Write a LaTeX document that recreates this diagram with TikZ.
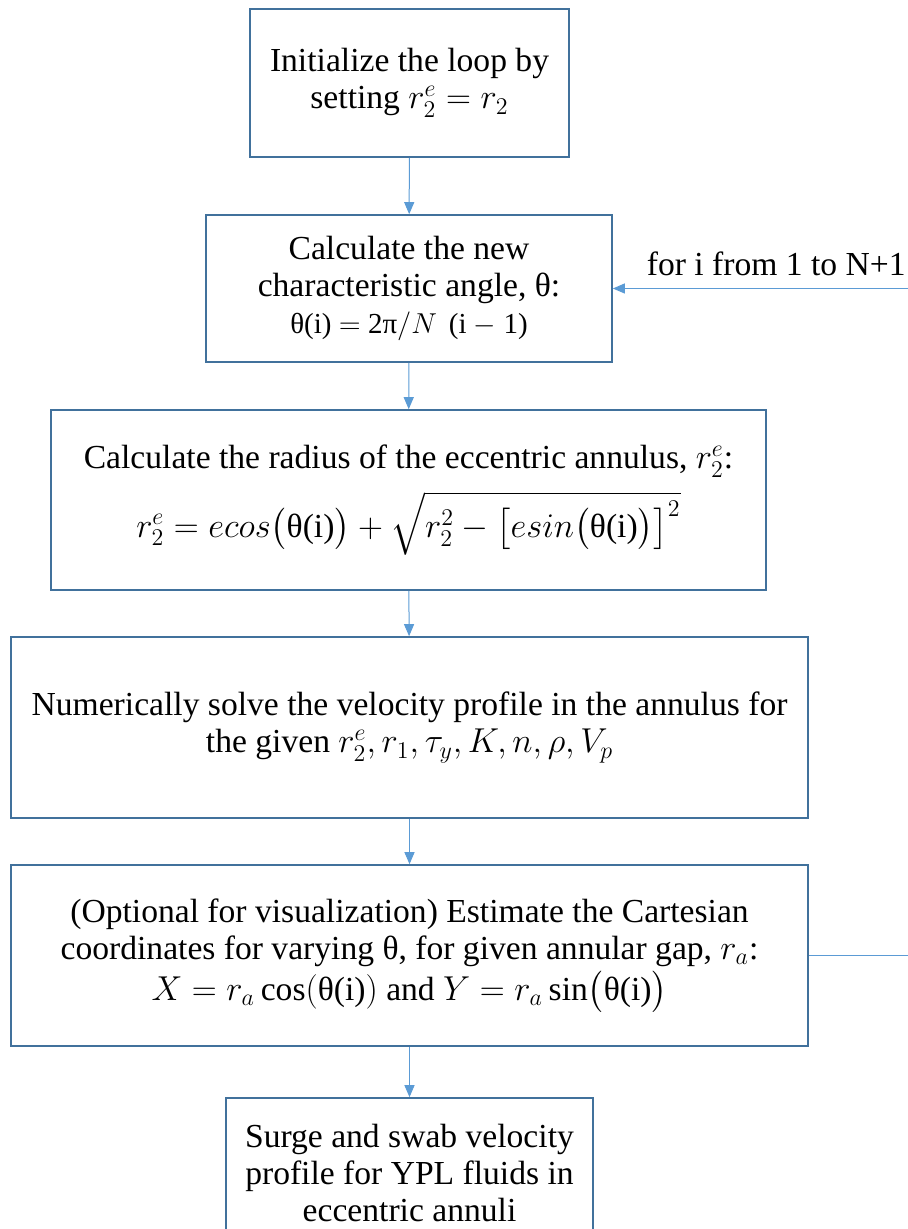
\documentclass[tikz,border=0pt]{standalone}
\usepackage{amsmath}
\usepackage{fontspec}
\setmainfont{Liberation Serif}
\usepackage{tikz}
\usetikzlibrary{arrows.meta}
\definecolor{boxline}{HTML}{41719C}
\definecolor{flowline}{HTML}{5B9BD5}

\begin{document}
\begin{tikzpicture}[x=0.5pt, y=-0.5pt,
		stepbox/.style={draw=boxline, line width=0.8pt, align=center, inner sep=0pt,
			font=\fontsize{16.8}{18.5}\selectfont},
		flow/.style={draw=flowline, line width=0.5pt, -{Triangle[length=6pt, width=5pt]}},
		>=stealth]
	\useasboundingbox (0,0) rectangle (908,1229);
	
	% ---------- boxes ----------
	\node[stepbox, minimum width=159.5pt, minimum height=74pt] (init) at (409.5,83)
		{Initialize the loop by\\ setting $r_2^e = r_2$};
	\node[stepbox, minimum width=203pt, minimum height=73.5pt] (angle) at (409,288.5)
		{Calculate the new\\ characteristic angle, θ:\\
		 {\fontsize{14.5}{18.5}\selectfont θ(i) $=$ 2π$/N$\, (i $-$ 1)}};
	\node[stepbox, minimum width=357.5pt, minimum height=90pt] (radius) at (408.5,500)
		{Calculate the radius of the eccentric annulus, $r_2^e$:\\[6pt]
		 $r_2^e = ecos\bigl(\text{θ(i)}\bigr) + \sqrt{r_2^2 - \bigl[esin\bigl(\text{θ(i)}\bigr)\bigr]^2}$};
	\node[stepbox, minimum width=398.5pt, minimum height=90.5pt] (solve) at (409.5,727.5)
		{Numerically solve the velocity profile in the annulus for\\
		 the given $r_2^e, r_1, \tau_y, K, n, \rho, V_p$};
	\node[stepbox, minimum width=398.5pt, minimum height=90.5pt] (cart) at (409.5,955.5)
		{(Optional for visualization) Estimate the Cartesian\\
		 coordinates for varying θ, for given annular gap, $r_a$:\\[2pt]
		 $X = r_a\cos(\text{θ(i)})$ and $Y = r_a \sin\bigl(\text{θ(i)}\bigr)$};
	\node[stepbox, minimum width=183.5pt, minimum height=75pt] (result) at (409.5,1173)
		{Surge and swab velocity\\ profile for YPL fluids in\\ eccentric annuli};
	
	% ---------- arrows ----------
	\draw[flow] (init) -- (angle);
	\draw[flow] (angle) -- (radius);
	\draw[flow] (radius) -- (solve);
	\draw[flow] (solve) -- (cart);
	\draw[flow] (cart) -- (result);
	
	% ---------- loop back ----------
	\coordinate (loopR) at (940,955.5);
	\draw[flow] (cart.east) -- (loopR) |- (angle.east);
	\node[font=\fontsize{16.8}{18.5}\selectfont, anchor=south east, inner sep=0pt] (loop) at (906,276)
		{for i from 1 to N+1};
\end{tikzpicture}
\end{document}
